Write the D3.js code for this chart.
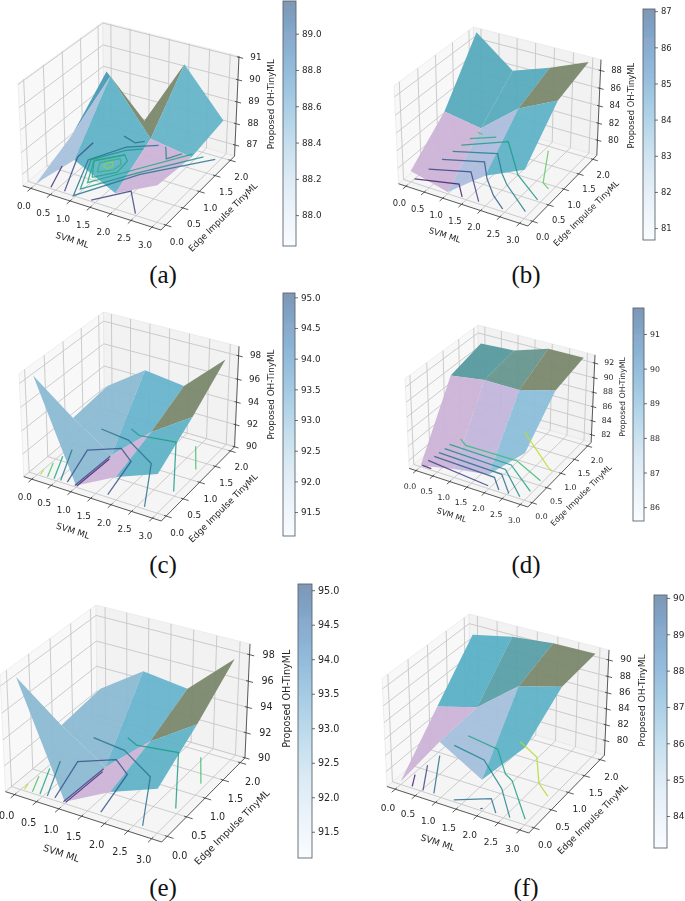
<!DOCTYPE html>
<html>
<head>
<meta charset="utf-8">
<script src="https://cdn.jsdelivr.net/npm/d3@7"></script>
<style>
  body { margin: 0; background: #fff; }
  text { font-family: "DejaVu Sans", sans-serif; fill: #262626; }
  .caption { font-family: "Liberation Serif", serif; fill: #111; }
</style>
</head>
<body>
<div id="chart"></div>
<script>
// tick labels shared by all panels
const svmTicks = [0, 0.5, 1, 1.5, 2, 2.5, 3];
const edgeTicks = [0, 0.5, 1, 1.5, 2];
const gridX = [0, 1, 2, 3];
const gridY = [0, 1, 2];
const xLimits = [-0.21, 3.21];
const yLimits = [-0.14, 2.14];

// surface heights, one row per Edge Impulse value
const surfaceA = [
  [86.5, 88.13, 87.19, 88.13],
  [87.38, 90.52, 88.22, 87.92],
  [89.03, 87.19, 90.3, 88.23]
];
const surfaceB = [
  [79.49, 78.42, 81.65, 83.65],
  [83.06, 82.36, 85.83, 87.89],
  [89.2, 85.89, 87.37, 89.1]
];
const surfaceC = [
  [98.5, 90.14, 92, 93.36],
  [92.34, 90.05, 93.11, 95.43],
  [92.72, 95.06, 94.62, 97.82]
];
const surfaceD = [
  [81.08, 82.1, 82.88, 87.29],
  [89.99, 90.68, 90.62, 91.88],
  [91.22, 91.45, 92.9, 92.9]
];
const surfaceF = [
  [78.47, 84.97, 81.95, 87.42],
  [83.95, 85.3, 89.27, 90.6],
  [89.36, 90.39, 90.9, 90.94]
];

// floor contours as [svm, edge] paths
const contoursA = [
  [[0.35, 0.03], [0.085, 0.61]],
  [[0.69, 0.04], [0.18, 0.94], [0.15, 1.42]],
  [[1.37, 0.03], [1.93, 0.52], [2.45, 0.04]],
  [[1.5, 1.85], [0.9, 1.56], [0.45, 0.95], [0.95, 0], [1.76, 0.98], [2.9, 1.91]],
  [[1.28, 1.64], [0.97, 1.47], [0.5, 0.98], [0.94, 0.2], [1.67, 0.99], [2.62, 1.89]],
  [[1.05, 1.35], [0.58, 0.96], [0.94, 0.4], [1.63, 1.13], [2.35, 1.88]],
  [[0.91, 0.56], [0.575, 0.985], [1.05, 1.35], [1.235, 1.21], [1.275, 0.87], [0.91, 0.56]],
  [[0.9, 0.72], [0.735, 0.97], [1.035, 1.22], [1.185, 1.09], [1.155, 0.89], [0.9, 0.72]],
  [[0.865, 0.92], [0.885, 1.02], [0.975, 1.08], [1.055, 0.97], [1.005, 0.88], [0.865, 0.92]],
  [[0.61, 1.83], [0.98, 1.74], [1.14, 1.85]],
  [[1.67, 1.87], [1.94, 1.56], [2.14, 1.81]]
];
const levelsA = [0.12, 0.22, 0.2, 0.38, 0.52, 0.6, 0.6, 0.65, 0.82, 0.38, 0.45];

const contoursB = [
  [[0, 0.1], [1.01, 0.32], [1.35, 0.04]],
  [[0.05, 0.45], [0.98, 0.71], [1.78, 0.05]],
  [[0.09, 0.8], [1.03, 1.07], [1.45, 0.67], [1.94, 0.31], [2.4, 0.06]],
  [[0.12, 1.09], [1.11, 1.39], [1.65, 0.91], [1.97, 0.68], [2.89, 0.17]],
  [[0.15, 1.33], [1.06, 1.8], [2, 1], [2.9, 0.54]],
  [[0.17, 1.57], [0.69, 1.83]],
  [[0.19, 1.81], [0.34, 1.79]],
  [[2.1, 1.88], [2.67, 1], [2.9, 0.89]]
];
const levelsB = [0.08, 0.2, 0.3, 0.42, 0.55, 0.62, 0.72, 0.76];

const contoursC = [
  [[0.06, 0.03], [0.01, 0.16]],
  [[0.24, 0.03], [0.04, 0.39]],
  [[0.41, 0.03], [0.07, 0.62]],
  [[0.57, 0.04], [0.1, 0.85]],
  [[0.73, 0.05], [0.41, 0.95], [1.03, 1.25], [1.5, 1], [1.74, 0.06]],
  [[0.94, 0.03], [0.99, 0.97]],
  [[0.99, 0.03], [1.03, 0.9]],
  [[0.2, 1.59], [0.99, 1.51], [1.93, 1.1], [2.65, 0.05]],
  [[0.8, 1.82], [1.1, 1.71], [1.97, 1.82], [2.9, 0.6]],
  [[2.44, 1.86], [2.9, 1.28]]
];
const levelsC = [0.88, 0.72, 0.6, 0.42, 0.26, 0.2, 0.1, 0.38, 0.55, 0.7];

const contoursD = [
  [[0, 0.05], [0.28, 0.04]],
  [[0, 0.23], [1.92, 0.07]],
  [[0.03, 0.39], [1.86, 0.34], [2.24, 0.05]],
  [[0.04, 0.53], [1.95, 0.48], [2.53, 0.04]],
  [[0.06, 0.69], [1.92, 0.64], [2.83, 0.05]],
  [[0.06, 0.85], [1.94, 0.81], [2.94, 0.27]],
  [[0.17, 1.1], [0.45, 0.96], [1.98, 0.97], [2.93, 0.63]],
  [[1.46, 1.86], [2.78, 1.07], [2.98, 0.98]]
];
const levelsD = [0.08, 0.2, 0.3, 0.38, 0.46, 0.56, 0.68, 0.9];

const contoursF = [
  [[0.25, 0.04], [0.05, 0.32]],
  [[0.53, 0.03], [0.08, 0.62]],
  [[0.79, 0.04], [0.1, 0.93]],
  [[1.28, 0.04], [1.93, 0.33], [2.28, 0.05]],
  [[1.92, 0.04], [1.96, 0.06]],
  [[0.15, 1.28], [1.03, 1.15], [1.93, 0.62], [2.61, 0.05]],
  [[0.2, 1.62], [1.06, 1.51], [1.71, 0.98], [1.97, 0.87], [2.91, 0.12]],
  [[1.34, 1.86], [1.97, 1.6], [2.51, 1], [2.91, 0.77]]
];
const levelsF = [0.08, 0.22, 0.38, 0.38, 0.2, 0.45, 0.58, 0.88];

// z axis and colour bar ticks
const zTicksA = [87, 88, 89, 90, 91];
const zTicksB = [80, 82, 84, 86, 88];
const zTicksC = [90, 92, 94, 96, 98];
const zTicksD = [82, 84, 86, 88, 90, 92];
const zTicksF = [80, 82, 84, 86, 88, 90];
const barTicksA = [88, 88.2, 88.4, 88.6, 88.8, 89];
const barTicksB = [81, 82, 83, 84, 85, 86, 87];
const barTicksC = [91.5, 92, 92.5, 93, 93.5, 94, 94.5, 95];
const barTicksD = [86, 87, 88, 89, 90, 91];
const barTicksF = [84, 85, 86, 87, 88, 89, 90];

// face colours, order: front row then middle row, left to right
const pink = "#cbb3d6", lav = "#adbddc", pale = "#a9c1dd", teal = "#5fb2c7";
const olive = "#7a886c", sky = "#8cbbd3", deep = "#5a9fa8";
const facesA = [pale, teal, pink, "#4a9ab5", olive, "#66b4c8"];
const facesB = [pink, lav, teal, "#56abbd", "#56abbd", olive];
const facesC = [sky, pink, teal, sky, "#67b4cc", olive];
const facesD = [pink, "#c2b6dc", "#8cbfd9", "#569a9f", "#66968d", olive];
const facesF = [pink, "#a4bfdc", teal, "#5ab0c6", deep, olive];

const panels = [
  { label: "(a)", surface: surfaceA, contours: contoursA, levels: levelsA, faces: facesA, zTicks: zTicksA, zLim: [86.47, 91.05],
    box: [18, 239, 22, 230], k: 1, font: 8.8, bar: [283, 296, 1, 246], barLim: [87.83, 89.18], barTicks: barTicksA, fmt: ".1f", cap: [163, 283] },
  { label: "(b)", surface: surfaceB, contours: contoursB, levels: levelsB, faces: facesB, zTicks: zTicksB, zLim: [78.2, 89.2],
    box: [394, 601, 27, 226], k: 0.94, font: 8.4, bar: [643, 655, 9, 240], barLim: [80.67, 87.06], barTicks: barTicksB, fmt: "d", cap: [526, 283] },
  { label: "(c)", surface: surfaceC, contours: contoursC, levels: levelsC, faces: facesC, zTicks: zTicksC, zLim: [90, 98.8],
    box: [19, 239, 312, 521], k: 1, font: 8.8, bar: [283, 295, 293, 536], barLim: [91.11, 95.07], barTicks: barTicksC, fmt: ".1f", cap: [163, 573] },
  { label: "(d)", surface: surfaceD, contours: contoursD, levels: levelsD, faces: facesD, zTicks: zTicksD, zLim: [80.9, 93.1],
    box: [405, 595, 325, 507], k: 0.86, font: 7.8, bar: [633, 644, 308, 521], barLim: [85.6, 91.75], barTicks: barTicksD, fmt: "d", cap: [526, 573] },
  { label: "(e)", surface: surfaceC, contours: contoursC, levels: levelsC, faces: facesC, zTicks: zTicksC, zLim: [90, 98.8],
    box: [0, 250, 605, 842], k: 1.13, font: 9.6, bar: [298, 312, 584, 858], barLim: [91.12, 95.09], barTicks: barTicksC, fmt: ".1f", cap: [163, 896] },
  { label: "(f)", surface: surfaceF, contours: contoursF, levels: levelsF, faces: facesF, zTicks: zTicksF, zLim: [78.1, 91.2],
    box: [382, 609, 614, 833], k: 1.03, font: 9, bar: [654, 667, 595, 848], barLim: [83.12, 90.08], barTicks: barTicksF, fmt: "d", cap: [526, 896] }
];

const width = 685, height = 901;
const svg = d3.select("#chart").append("svg")
  .attr("width", width)
  .attr("height", height);

const defs = svg.append("defs");

// colour bar gradient, Blues at half alpha
const grad = defs.append("linearGradient")
  .attr("id", "blues")
  .attr("x1", 0).attr("x2", 0).attr("y1", 1).attr("y2", 0);
d3.range(0, 1.01, 0.1).forEach(t => {
  grad.append("stop")
    .attr("offset", t)
    .attr("stop-color", d3.interpolateBlues(t))
    .attr("stop-opacity", 0.5);
});

// the source panels are soft, upscaled bitmaps
defs.append("filter")
  .attr("id", "soft")
  .attr("filterUnits", "userSpaceOnUse")
  .attr("x", 0).attr("y", 0)
  .attr("width", width).attr("height", height)
  .append("feGaussianBlur")
  .attr("stdDeviation", 0.45);

// same camera as a default mplot3d view, elev 30, azim -60
const rad = Math.PI / 180;
const boxNorm = 1.8294640721620434 / Math.hypot(4, 4, 3);
const boxSize = [4 * boxNorm, 4 * boxNorm, 3 * boxNorm];
const center = boxSize.map(d => d / 2);
const w = [Math.cos(30 * rad) * Math.cos(-60 * rad), Math.cos(30 * rad) * Math.sin(-60 * rad), Math.sin(30 * rad)];
const eye = center.map((c, i) => c + 10 * w[i]);
const uLen = Math.hypot(w[1], w[0]);
const u = [-w[1] / uLen, w[0] / uLen, 0];
const v = [w[1] * u[2] - w[2] * u[1], w[2] * u[0] - w[0] * u[2], w[0] * u[1] - w[1] * u[0]];
const dot = (a, b) => a[0] * b[0] + a[1] * b[1] + a[2] * b[2];

function camera(t) {
  const d = [t[0] * boxSize[0] - eye[0], t[1] * boxSize[1] - eye[1], t[2] * boxSize[2] - eye[2]];
  const depth = -dot(w, d);
  return [dot(u, d) / depth, dot(v, d) / depth, depth];
}

function drawPanel(p) {
  const g = svg.append("g").attr("filter", "url(#soft)");
  const sx = d3.scaleLinear().domain(xLimits).range([0, 1]);
  const sy = d3.scaleLinear().domain(yLimits).range([0, 1]);
  const sz = d3.scaleLinear().domain(p.zLim).range([0, 1]);

  const corners = [];
  [0, 1].forEach(a => [0, 1].forEach(b => [0, 1].forEach(c => corners.push(camera([a, b, c])))));
  const su = d3.scaleLinear().domain(d3.extent(corners, d => d[0])).range([p.box[0], p.box[1]]);
  const sv = d3.scaleLinear().domain(d3.extent(corners, d => d[1])).range([p.box[3], p.box[2]]);

  const pt = (x, y, z) => {
    const c = camera([sx(x), sy(y), sz(z)]);
    return [su(c[0]), sv(c[1])];
  };
  const line = d3.line();
  const [x0, x1] = xLimits, [y0, y1] = yLimits, [z0, z1] = p.zLim;

  // panes
  const panes = [
    { pts: [[x0, y0, z0], [x0, y1, z0], [x0, y1, z1], [x0, y0, z1]], fill: "#f8f8f8" },
    { pts: [[x0, y1, z0], [x1, y1, z0], [x1, y1, z1], [x0, y1, z1]], fill: "#f2f2f2" },
    { pts: [[x0, y0, z0], [x1, y0, z0], [x1, y1, z0], [x0, y1, z0]], fill: "#f5f5f5" }
  ];
  panes.forEach(d => {
    g.append("path")
      .attr("d", line(d.pts.map(q => pt(...q))) + "Z")
      .attr("fill", d.fill)
      .attr("stroke", "#e4e4e4")
      .attr("stroke-width", 0.6);
  });

  // grid
  const gridLine = pts => g.append("path")
    .attr("d", line(pts.map(q => pt(...q))))
    .attr("fill", "none")
    .attr("stroke", "#c6c6c6")
    .attr("stroke-width", 0.9);
  svmTicks.forEach(x => gridLine([[x, y0, z0], [x, y1, z0], [x, y1, z1]]));
  edgeTicks.forEach(y => gridLine([[x1, y, z0], [x0, y, z0], [x0, y, z1]]));
  p.zTicks.forEach(z => gridLine([[x0, y0, z], [x0, y1, z], [x1, y1, z]]));

  // axis lines and ticks
  const axisLine = pts => g.append("path")
    .attr("d", line(pts.map(q => pt(...q))))
    .attr("fill", "none")
    .attr("stroke", "#333")
    .attr("stroke-width", 0.8);
  axisLine([[x0, y0, z0], [x1, y0, z0], [x1, y1, z0], [x1, y1, z1]]);

  const tickText = (pos, dx, dy, txt) => g.append("text")
    .attr("x", pos[0] + dx * p.k)
    .attr("y", pos[1] + dy * p.k)
    .attr("text-anchor", "middle")
    .attr("dominant-baseline", "middle")
    .attr("font-size", p.font)
    .text(txt);

  svmTicks.forEach(x => {
    axisLine([[x, y0 + 0.04, z0], [x, y0 - 0.09, z0]]);
    tickText(pt(x, y0, z0), -7, 18.5, d3.format(".1f")(x));
  });
  edgeTicks.forEach(y => {
    axisLine([[x1 - 0.05, y, z0], [x1 + 0.13, y, z0]]);
    tickText(pt(x1, y, z0), 11, 17, d3.format(".1f")(y));
  });
  p.zTicks.forEach(z => {
    axisLine([[x1 - 0.05, y1, z], [x1 + 0.1, y1, z]]);
    tickText(pt(x1, y1, z), 17, 0, z);
  });

  // axis labels
  const axisLabel = (pos, dx, dy, rot, txt) => g.append("text")
    .attr("transform", `translate(${pos[0] + dx * p.k},${pos[1] + dy * p.k}) rotate(${rot})`)
    .attr("text-anchor", "middle")
    .attr("dominant-baseline", "middle")
    .attr("font-size", p.font)
    .text(txt);
  axisLabel(pt((x0 + x1) / 2, y0, z0), -18, 33, 18, "SVM ML");
  axisLabel(pt(x1, (y0 + y1) / 2, z0), 24, 26, -45, "Edge Impulse TinyML");
  axisLabel(pt(x1, y1, (z0 + z1) / 2), 35, -3, -90, "Proposed OH-TinyML");

  // surface faces, far ones first
  const faces = [];
  gridY.slice(0, -1).forEach((yv, j) => {
    gridX.slice(0, -1).forEach((xv, i) => {
      const q = [[i, j], [i + 1, j], [i + 1, j + 1], [i, j + 1]]
        .map(([a, b]) => [gridX[a], gridY[b], p.surface[b][a]]);
      const depth = d3.mean(q, d => camera([sx(d[0]), sy(d[1]), sz(d[2])])[2]);
      faces.push({ q, depth, color: p.faces[j * 3 + i] });
    });
  });
  faces.sort((a, b) => d3.descending(a.depth, b.depth));
  g.selectAll("path.face")
    .data(faces)
    .enter().append("path")
    .attr("class", "face")
    .attr("d", d => line(d.q.map(q => pt(...q))) + "Z")
    .attr("fill", d => d.color)
    .attr("fill-opacity", 0.95);

  // contours on the floor
  const viridis = d3.scaleSequential(d3.interpolateViridis).domain([0, 1]);
  g.selectAll("path.contour")
    .data(p.contours)
    .enter().append("path")
    .attr("class", "contour")
    .attr("d", d => line(d.map(q => pt(q[0], q[1], z0))))
    .attr("fill", "none")
    .attr("stroke", (d, i) => viridis(p.levels[i]))
    .attr("stroke-opacity", 0.85)
    .attr("stroke-width", 1.25);

  // colour bar
  const barScale = d3.scaleLinear().domain(p.barLim).range([p.bar[3], p.bar[2]]);
  g.append("rect")
    .attr("x", p.bar[0])
    .attr("y", p.bar[2])
    .attr("width", p.bar[1] - p.bar[0])
    .attr("height", p.bar[3] - p.bar[2])
    .attr("fill", "url(#blues)")
    .attr("stroke", "#5c6670")
    .attr("stroke-width", 0.9);
  const barAxis = g.append("g")
    .attr("transform", `translate(${p.bar[1]},0)`)
    .call(d3.axisRight(barScale).tickValues(p.barTicks).tickSize(3).tickFormat(d3.format(p.fmt)));
  barAxis.select(".domain").remove();
  barAxis.selectAll("line").attr("stroke", "#333").attr("stroke-width", 0.7);
  barAxis.selectAll("text").attr("font-size", p.font).attr("fill", "#262626").attr("font-family", "DejaVu Sans");

  svg.append("text")
    .attr("class", "caption")
    .attr("x", p.cap[0])
    .attr("y", p.cap[1])
    .attr("text-anchor", "middle")
    .attr("font-size", 25)
    .text(p.label);
}

panels.forEach(drawPanel);
</script>
</body>
</html>
